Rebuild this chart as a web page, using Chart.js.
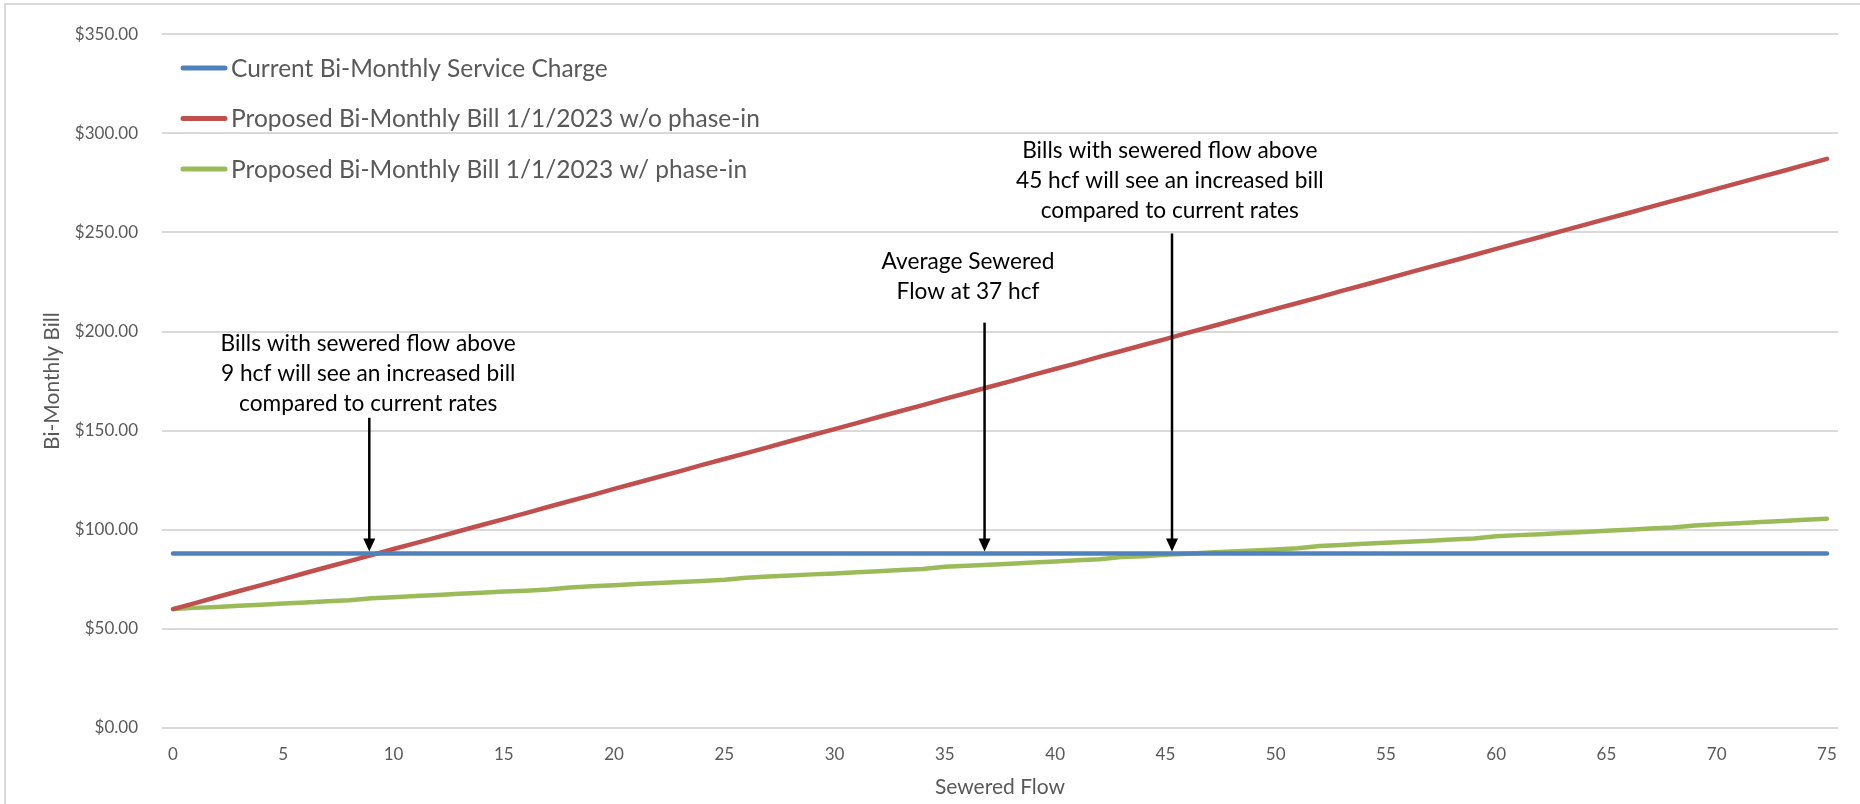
<!DOCTYPE html>
<html>
<head>
<meta charset="utf-8">
<title>Bi-Monthly Bill vs Sewered Flow</title>
<script src="https://cdn.jsdelivr.net/npm/chart.js@4.4.1/dist/chart.umd.min.js"></script>
<style>
    html, body { margin: 0; padding: 0; background: #fff; }
    #wrap { position: relative; width: 1860px; height: 804px; }
</style>
</head>
<body>
<div id="wrap"><canvas id="bill"></canvas></div>
<script>
// sewered flow in hcf, 0..75
const flow = ['0', '1', '2', '3', '4', '5', '6', '7', '8', '9',
              '10', '11', '12', '13', '14', '15', '16', '17', '18', '19',
              '20', '21', '22', '23', '24', '25', '26', '27', '28', '29',
              '30', '31', '32', '33', '34', '35', '36', '37', '38', '39',
              '40', '41', '42', '43', '44', '45', '46', '47', '48', '49',
              '50', '51', '52', '53', '54', '55', '56', '57', '58', '59',
              '60', '61', '62', '63', '64', '65', '66', '67', '68', '69',
              '70', '71', '72', '73', '74', '75']

const currentCharge = [88, 88, 88, 88, 88, 88, 88, 88, 88, 88,
                       88, 88, 88, 88, 88, 88, 88, 88, 88, 88,
                       88, 88, 88, 88, 88, 88, 88, 88, 88, 88,
                       88, 88, 88, 88, 88, 88, 88, 88, 88, 88,
                       88, 88, 88, 88, 88, 88, 88, 88, 88, 88,
                       88, 88, 88, 88, 88, 88, 88, 88, 88, 88,
                       88, 88, 88, 88, 88, 88, 88, 88, 88, 88,
                       88, 88, 88, 88, 88, 88]

const noPhaseIn = [60.0, 63.0, 66.1, 69.1, 72.1, 75.1, 78.2, 81.2, 84.2, 87.2,
                   90.3, 93.3, 96.3, 99.4, 102.4, 105.4, 108.4, 111.5, 114.5, 117.5,
                   120.6, 123.6, 126.6, 129.6, 132.7, 135.7, 138.7, 141.7, 144.8, 147.8,
                   150.8, 153.8, 156.9, 159.9, 162.9, 166.0, 169.0, 172.0, 175.0, 178.1,
                   181.1, 184.1, 187.2, 190.2, 193.2, 196.2, 199.3, 202.3, 205.3, 208.4,
                   211.4, 214.4, 217.4, 220.5, 223.5, 226.5, 229.6, 232.6, 235.6, 238.6,
                   241.7, 244.7, 247.7, 250.8, 253.8, 256.8, 259.8, 262.9, 265.9, 268.9,
                   272.0, 275.0, 278.0, 281.0, 284.1, 287.1]

const withPhaseIn = [60.0, 60.6, 61.1, 61.7, 62.2, 62.8, 63.3, 63.9, 64.4, 65.5,
                     66.0, 66.6, 67.1, 67.7, 68.2, 68.8, 69.3, 69.9, 70.9, 71.5,
                     72.0, 72.6, 73.1, 73.7, 74.2, 74.8, 75.8, 76.4, 76.9, 77.5,
                     78.0, 78.6, 79.1, 79.7, 80.2, 81.3, 81.8, 82.4, 82.9, 83.5,
                     84.0, 84.6, 85.1, 86.2, 86.7, 87.4, 87.9, 88.5, 89.0, 89.6,
                     90.1, 90.7, 91.8, 92.3, 92.9, 93.4, 94.0, 94.5, 95.1, 95.6,
                     96.7, 97.3, 97.8, 98.4, 98.9, 99.5, 100.0, 100.6, 101.1, 102.2,
                     102.8, 103.3, 103.9, 104.4, 105.0, 105.6]

const seriesNames = ['Current Bi-Monthly Service Charge',
                     'Proposed Bi-Monthly Bill 1/1/2023 w/o phase-in',
                     'Proposed Bi-Monthly Bill 1/1/2023 w/ phase-in']

const COLORS = ['#4f81bd', '#c0504d', '#9bbb59']
const FONT = 'Lato, "Open Sans", sans-serif'
const GREY = '#595959'

// callouts: x (hcf), arrow start (y value), first text line (y value), text
const notes = [
    { x: 8.9, from: 156.5, textX: 8.85, textY: 194,
      lines: ['Bills with sewered flow above', '9 hcf will see an increased bill', 'compared to current rates'] },
    { x: 36.8, from: 204.5, textX: 36.05, textY: 235,
      lines: ['Average Sewered', 'Flow at 37 hcf'] },
    { x: 45.3, from: 249.5, textX: 45.2, textY: 291,
      lines: ['Bills with sewered flow above', '45 hcf will see an increased bill', 'compared to current rates'] }
]

const frame = {
    id: 'frame',
    beforeDraw(chart) {
        const ctx = chart.ctx
        ctx.save()
        ctx.strokeStyle = '#d9d9d9'
        ctx.lineWidth = 2
        ctx.strokeRect(5, 4, chart.width + 10, chart.height + 10)
        ctx.restore()
    }
}

const legendBox = {
    id: 'legendBox',
    afterDraw(chart) {
        const ctx = chart.ctx
        ctx.save()
        ctx.font = '24.5px ' + FONT
        ctx.textBaseline = 'middle'
        ctx.lineCap = 'round'
        ctx.lineWidth = 5
        chart.data.datasets.forEach((ds, i) => {
            const y = 68 + i * 50.5
            ctx.strokeStyle = ds.borderColor
            ctx.beginPath()
            ctx.moveTo(183, y)
            ctx.lineTo(225, y)
            ctx.stroke()
            ctx.fillStyle = GREY
            ctx.fillText(ds.label, 231, y + 1)
        })
        ctx.restore()
    }
}

const callouts = {
    id: 'callouts',
    afterDatasetsDraw(chart) {
        const ctx = chart.ctx
        const xs = chart.scales.x
        const ys = chart.scales.y
        const tipY = ys.getPixelForValue(currentCharge[0]) - 2
        ctx.save()
        notes.forEach(n => {
            const x = xs.getPixelForValue(n.x)
            const y0 = ys.getPixelForValue(n.from)
            ctx.strokeStyle = '#000'
            ctx.fillStyle = '#000'
            ctx.lineWidth = 2.5
            ctx.beginPath()
            ctx.moveTo(x, y0)
            ctx.lineTo(x, tipY - 12)
            ctx.stroke()
            ctx.beginPath()
            ctx.moveTo(x - 6, tipY - 13)
            ctx.lineTo(x + 6, tipY - 13)
            ctx.lineTo(x, tipY)
            ctx.closePath()
            ctx.fill()

            ctx.font = '22.7px ' + FONT
            ctx.textAlign = 'center'
            ctx.textBaseline = 'middle'
            const tx = xs.getPixelForValue(n.textX)
            const ty = ys.getPixelForValue(n.textY)
            n.lines.forEach((line, i) => ctx.fillText(line, tx, ty + i * 30))
        })
        ctx.restore()
    }
}

const chart = new Chart(bill, {
    type: 'line',
    data: {
        labels: flow,
        datasets: [{
            label: seriesNames[0],
            data: currentCharge,
            borderColor: COLORS[0]
        }, {
            label: seriesNames[1],
            data: noPhaseIn,
            borderColor: COLORS[1]
        }, {
            label: seriesNames[2],
            data: withPhaseIn,
            borderColor: COLORS[2]
        }]
    },
    options: {
        responsive: true,
        maintainAspectRatio: false,
        animation: false,
        layout: { padding: { left: 0, right: 22, top: 26, bottom: 0 } },
        elements: {
            line: { borderWidth: 4.5, tension: 0, borderCapStyle: 'round', borderJoinStyle: 'round' },
            point: { radius: 0, hoverRadius: 0 }
        },
        plugins: {
            legend: { display: false },
            tooltip: { enabled: false }
        },
        scales: {
            x: {
                offset: true,
                grid: { display: false, drawTicks: false },
                border: { display: false },
                ticks: {
                    autoSkip: false,
                    maxRotation: 0,
                    padding: 16,
                    color: GREY,
                    font: { family: FONT, size: 17 },
                    callback: (v, i) => i % 5 === 0 ? flow[i] : ''
                },
                title: {
                    display: true,
                    text: 'Sewered Flow',
                    color: GREY,
                    font: { family: FONT, size: 21, lineHeight: 1 },
                    padding: { top: 0, bottom: 6.5 }
                },
                afterFit: (s) => { s.height = 76 }
            },
            y: {
                min: 0,
                max: 350,
                grid: { color: '#d9d9d9', lineWidth: 2, drawTicks: false },
                border: { display: false },
                ticks: {
                    stepSize: 50,
                    padding: 24,
                    color: GREY,
                    font: { family: FONT, size: 17 },
                    callback: (v) => '$' + v.toFixed(2)
                },
                title: {
                    display: true,
                    text: 'Bi-Monthly Bill',
                    color: GREY,
                    font: { family: FONT, size: 21, lineHeight: 1 },
                    padding: { top: 41.5, bottom: 0 }
                },
                afterFit: (s) => { s.width = 162 }
            }
        }
    },
    plugins: [frame, legendBox, callouts]
})
</script>
</body>
</html>
